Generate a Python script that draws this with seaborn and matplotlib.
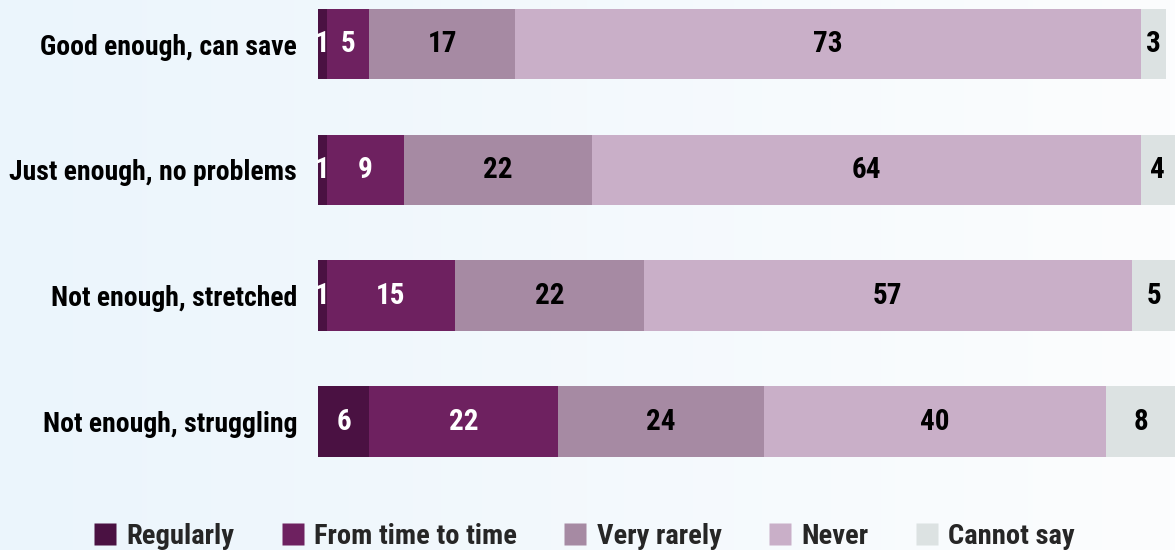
import numpy as np
import pandas as pd
import matplotlib
matplotlib.use("Agg")
import matplotlib.pyplot as plt
from matplotlib.lines import Line2D
import seaborn as sns

categories = ["Good enough, can save", "Just enough, no problems",
              "Not enough, stretched", "Not enough, struggling"]
series_names = ["Regularly", "From time to time", "Very rarely", "Never", "Cannot say"]
regularly = [1, 1, 1, 6]
time_to_time = [5, 9, 15, 22]
very_rarely = [17, 22, 22, 24]
never = [73, 64, 57, 40]
cannot_say = [3, 4, 5, 8]

colors = ["#4a1142", "#6e2160", "#a68aa3", "#c9afc8", "#dce2e2"]
text_colors = ["white", "white", "black", "black", "black"]

sns.set_theme(style="white")
FONT = ["Roboto Condensed", "Roboto", "DejaVu Sans"]
plt.rcParams["font.family"] = FONT
plt.rcParams["font.weight"] = "bold"

values = [regularly, time_to_time, very_rarely, never, cannot_say]
df = pd.DataFrame({name: v for name, v in zip(series_names, values)})
df["category"] = categories
cum = df[series_names].cumsum(axis=1)

W, H = 1175, 550
fig = plt.figure(figsize=(W / 100, H / 100), dpi=100)

# background gradient
bg = fig.add_axes([0, 0, 1, 1], zorder=-10)
grad = np.linspace(0, 1, 256)[None, :]
c0 = np.array([235, 245, 252]) / 255
c1 = np.array([252, 253, 254]) / 255
img = c0[None, None, :] * (1 - grad[..., None]) + c1[None, None, :] * grad[..., None]
bg.imshow(img, aspect="auto", extent=[0, 1, 0, 1])
bg.axis("off")

ax = fig.add_axes([318 / W, 1 - 470 / H, 1 - 318 / W, 470 / H])
ax.patch.set_alpha(0)

for i in range(len(series_names) - 1, -1, -1):
    d = pd.DataFrame({"category": categories, "v": cum[series_names[i]]})
    sns.barplot(data=d, x="v", y="category", order=categories, orient="h",
                color=colors[i], saturation=1, width=0.56, ax=ax, linewidth=0)

for r, cat in enumerate(categories):
    left = 0
    for i, name in enumerate(series_names):
        v = df[name][r]
        ax.text(left + v / 2, r, str(v), ha="center", va="center",
                color=text_colors[i], fontsize=21, fontweight="bold", family=FONT)
        left += v

ax.set_xlim(0, 100)
ax.set_ylim(3.385, -0.35)
ax.set_xlabel("")
ax.set_ylabel("")
ax.set_xticks([])
ax.tick_params(axis="y", length=0, pad=15)
ax.set_yticks(range(len(categories)))
ax.set_yticklabels(categories, fontsize=20, fontweight="bold", family=FONT, color="black")
for s in ax.spines.values():
    s.set_visible(False)

handles = [Line2D([0], [0], marker="s", color="none", markerfacecolor=c,
                  markeredgecolor="none", markersize=16) for c in colors]
fig.legend(handles, series_names, loc="center", bbox_to_anchor=(0.496, 1 - 536 / H),
           ncol=5, frameon=False, handletextpad=0.25, columnspacing=1.55,
           handlelength=1.0, prop={"family": FONT, "weight": "bold", "size": 20.5})

fig.savefig("out.png", dpi=100)
